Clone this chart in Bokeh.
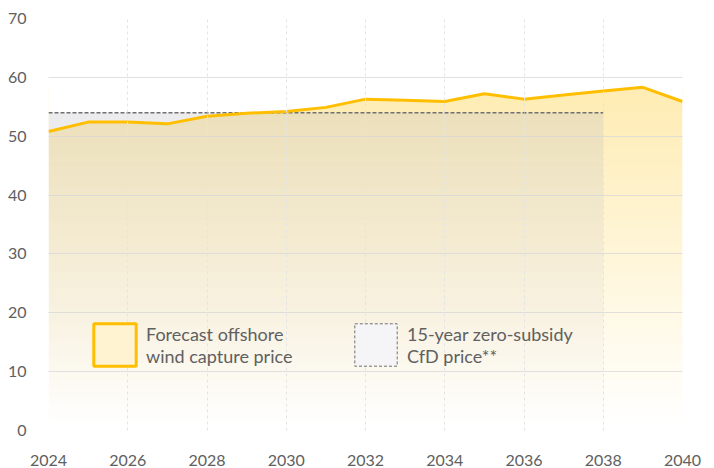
import numpy as np
from bokeh.plotting import figure
from bokeh.models import Range1d, SingleIntervalTicker, Legend, LegendItem, ColumnDataSource
from bokeh.embed import file_html
from bokeh.resources import INLINE

# ---- data ----
years = [2024, 2025, 2026, 2027, 2028, 2029, 2030, 2031, 2032, 2033, 2034, 2035, 2036, 2037, 2038, 2039, 2040]
capture_price = [50.8, 52.4, 52.4, 52.1, 53.4, 53.9, 54.2, 54.9, 56.3, 56.1, 55.9, 57.2, 56.3, 57.0, 57.7, 58.3, 55.9]
cfd_years = [2024, 2038]
cfd_price = [54.0, 54.0]
y_ticks = [0, 10, 20, 30, 40, 50, 60, 70]
label_capture = "Forecast offshore\nwind capture price"
label_cfd = "15-year zero-subsidy\nCfD price**"

FONT = "Lato"
TXT = "#606060"
YELLOW = "#FFBF00"

p = figure(width=714, height=468, output_backend="svg", toolbar_location=None,
           x_range=Range1d(years[0], years[-1]), y_range=Range1d(y_ticks[0], y_ticks[-1]),
           min_border_left=48, min_border_right=32, min_border_top=18, min_border_bottom=20)
p.outline_line_color = None
p.background_fill_color = "white"
p.border_fill_color = "white"

# yellow gradient image (bottom transparent -> top yellow)
N = 256
top = max(capture_price)
img = np.zeros((N, 1), dtype=np.uint32)
view = img.view(dtype=np.uint8).reshape((N, 1, 4))
alphas = np.linspace(0.0, 0.30, N)
view[:, 0, 0] = 255
view[:, 0, 1] = 192
view[:, 0, 2] = 0
view[:, 0, 3] = (alphas * 255).astype(np.uint8)
p.image_rgba(image=[img], x=years[0], y=0, dw=years[-1] - years[0], dh=top)

# white mask above the capture line
p.varea(x=years, y1=capture_price, y2=[y_ticks[-1]] * len(years), fill_color="white")

# grey CfD gradient
img2 = np.zeros((N, 1), dtype=np.uint32)
v2 = img2.view(dtype=np.uint8).reshape((N, 1, 4))
a2 = np.linspace(0.0, 0.30, N)
v2[:, 0, 0] = 190
v2[:, 0, 1] = 190
v2[:, 0, 2] = 195
v2[:, 0, 3] = (a2 * 255).astype(np.uint8)
p.image_rgba(image=[img2], x=cfd_years[0], y=0, dw=cfd_years[-1] - cfd_years[0], dh=cfd_price[0])

p.line(x=cfd_years, y=cfd_price, line_color="#707070", line_width=1.5, line_dash="4 2")
p.line(x=years, y=capture_price, line_color=YELLOW, line_width=3)

# grids
p.ygrid.ticker = y_ticks
p.ygrid.grid_line_color = "#d8d8d8"
p.ygrid.grid_line_alpha = 0.8
p.ygrid.level = "overlay"
p.xgrid.grid_line_color = "#e4e4e4"
p.xgrid.grid_line_dash = "3 3"
p.xgrid.level = "overlay"

# axes
for ax in (p.xaxis[0], p.yaxis[0]):
    ax.axis_line_color = None
    ax.major_tick_line_color = None
    ax.minor_tick_line_color = None
    ax.major_label_text_font = FONT
    ax.major_label_text_font_size = "16px"
    ax.major_label_text_color = TXT
p.xaxis.ticker = SingleIntervalTicker(interval=2)
p.yaxis.ticker = y_ticks
p.xaxis.major_label_standoff = 18
p.yaxis.major_label_standoff = 16

# legend dummies (a single undrawn NaN point each)
src = ColumnDataSource(dict(x=[np.nan], y=[np.nan]))
r1 = p.rect(x="x", y="y", width=1, height=1, source=src, fill_color="#FFF3D2",
            line_color=YELLOW, line_width=3)
r2 = p.rect(x="x", y="y", width=1, height=1, source=src, fill_color="#F5F5F7",
            line_color="#707070", line_width=1, line_dash="3 2")

for r, lab, loc in ((r1, label_capture, (40, 59)), (r2, label_cfd, (301, 59))):
    lg = Legend(items=[LegendItem(label=lab, renderers=[r], index=0)], location=loc,
                glyph_width=53, glyph_height=53, label_height=53,
                label_text_font=FONT, label_text_font_size="18px", label_text_color=TXT,
                label_standoff=5, padding=0, margin=0, border_line_color=None,
                background_fill_alpha=0)
    p.add_layout(lg)

open("out.html", "w").write(file_html(p, INLINE))
